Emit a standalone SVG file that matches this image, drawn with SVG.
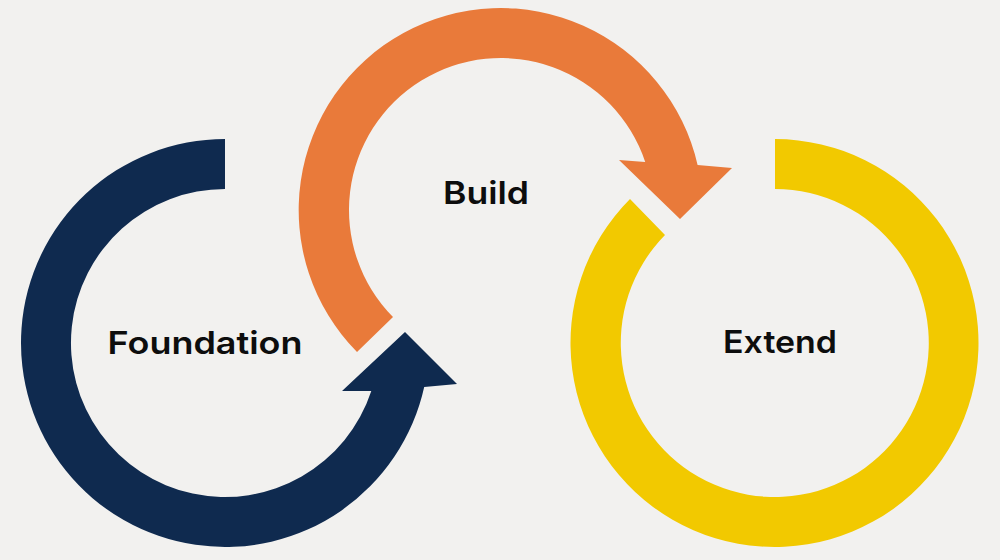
<svg xmlns="http://www.w3.org/2000/svg" width="1000" height="560" viewBox="0 0 1000 560">
  <style>
    .lbl { font-family: Inter, "Liberation Sans", sans-serif; font-weight: 600; font-size: 31.5px; fill: #0d0d0d; text-anchor: middle; }
  </style>
  <rect width="1000" height="560" fill="#f2f1ef"/>
  <g id="connectors">
    <path id="arc-foundation" fill="#0f2a4f" d="M225,139 A204,204 0 1 0 424.2,387 L457,384 L405,332 L342,391 L371.3,391 A154,154 0 1 1 225,189 Z"/>
    <path id="arc-build" fill="#e97a3a" d="M357,352 A202,202 0 1 1 697.6,165 L732,168 L680,219 L619,160 L645.2,162 A152,152 0 1 0 393,317 Z"/>
    <path id="arc-extend" fill="#f2c900" d="M775,139 A204,204 0 1 1 630,199 L665,235 A154,154 0 1 0 775,189 Z"/>
  </g>
  <g id="node-foundation">
    <text class="lbl" x="205" y="354" textLength="195" lengthAdjust="spacingAndGlyphs">Foundation</text>
  </g>
  <g id="node-build">
    <text class="lbl" x="486" y="204" textLength="86" lengthAdjust="spacingAndGlyphs">Build</text>
  </g>
  <g id="node-extend">
    <text class="lbl" x="780" y="353" textLength="114" lengthAdjust="spacingAndGlyphs">Extend</text>
  </g>
</svg>
